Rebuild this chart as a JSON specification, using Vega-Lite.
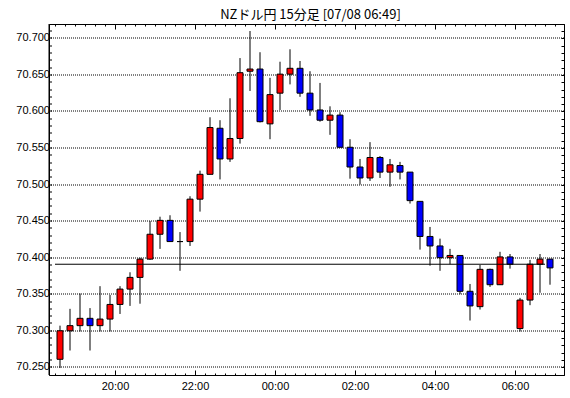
{
  "$schema": "https://vega.github.io/schema/vega-lite/v6.json",
  "width": 515,
  "height": 351,
  "autosize": {"type": "none"},
  "padding": {"left": 49, "top": 24, "right": 6, "bottom": 23},
  "background": "white",
  "title": {
    "text": "NZドル円 15分足 [07/08 06:49]",
    "font": "Noto Sans CJK JP",
    "fontSize": 13,
    "fontWeight": "normal",
    "color": "black",
    "anchor": "middle",
    "frame": "group",
    "baseline": "alphabetic",
    "offset": -8,
    "dx": 4
  },
  "config": {
    "view": {"stroke": "black", "strokeWidth": 1},
    "axis": {
      "labelFont": "Liberation Sans",
      "labelFontSize": 11,
      "labelColor": "black",
      "tickColor": "black",
      "domainColor": "black",
      "title": null,
      "labelOverlap": false,
      "labelFlush": false
    }
  },
  "datasets": {
    "candles": [
      {"t": "2024-07-07T18:30", "open": 70.261, "high": 70.307, "low": 70.249, "close": 70.300},
      {"t": "2024-07-07T18:45", "open": 70.300, "high": 70.330, "low": 70.273, "close": 70.307},
      {"t": "2024-07-07T19:00", "open": 70.307, "high": 70.351, "low": 70.299, "close": 70.317},
      {"t": "2024-07-07T19:15", "open": 70.317, "high": 70.331, "low": 70.273, "close": 70.307},
      {"t": "2024-07-07T19:30", "open": 70.307, "high": 70.361, "low": 70.299, "close": 70.316},
      {"t": "2024-07-07T19:45", "open": 70.316, "high": 70.349, "low": 70.299, "close": 70.336},
      {"t": "2024-07-07T20:00", "open": 70.336, "high": 70.361, "low": 70.323, "close": 70.357},
      {"t": "2024-07-07T20:15", "open": 70.357, "high": 70.380, "low": 70.334, "close": 70.373},
      {"t": "2024-07-07T20:30", "open": 70.373, "high": 70.400, "low": 70.337, "close": 70.398},
      {"t": "2024-07-07T20:45", "open": 70.398, "high": 70.450, "low": 70.397, "close": 70.432},
      {"t": "2024-07-07T21:00", "open": 70.432, "high": 70.456, "low": 70.412, "close": 70.451},
      {"t": "2024-07-07T21:15", "open": 70.451, "high": 70.458, "low": 70.422, "close": 70.422},
      {"t": "2024-07-07T21:30", "open": 70.422, "high": 70.435, "low": 70.382, "close": 70.422},
      {"t": "2024-07-07T21:45", "open": 70.422, "high": 70.484, "low": 70.416, "close": 70.480},
      {"t": "2024-07-07T22:00", "open": 70.480, "high": 70.519, "low": 70.463, "close": 70.514},
      {"t": "2024-07-07T22:15", "open": 70.514, "high": 70.592, "low": 70.514, "close": 70.578},
      {"t": "2024-07-07T22:30", "open": 70.577, "high": 70.588, "low": 70.507, "close": 70.535},
      {"t": "2024-07-07T22:45", "open": 70.535, "high": 70.618, "low": 70.531, "close": 70.563},
      {"t": "2024-07-07T23:00", "open": 70.563, "high": 70.673, "low": 70.556, "close": 70.653},
      {"t": "2024-07-07T23:15", "open": 70.655, "high": 70.710, "low": 70.628, "close": 70.658},
      {"t": "2024-07-07T23:30", "open": 70.658, "high": 70.681, "low": 70.585, "close": 70.586},
      {"t": "2024-07-07T23:45", "open": 70.583, "high": 70.646, "low": 70.562, "close": 70.623},
      {"t": "2024-07-08T00:00", "open": 70.625, "high": 70.668, "low": 70.602, "close": 70.651},
      {"t": "2024-07-08T00:15", "open": 70.651, "high": 70.685, "low": 70.637, "close": 70.659},
      {"t": "2024-07-08T00:30", "open": 70.659, "high": 70.669, "low": 70.620, "close": 70.625},
      {"t": "2024-07-08T00:45", "open": 70.625, "high": 70.655, "low": 70.594, "close": 70.602},
      {"t": "2024-07-08T01:00", "open": 70.602, "high": 70.639, "low": 70.586, "close": 70.588},
      {"t": "2024-07-08T01:15", "open": 70.588, "high": 70.607, "low": 70.568, "close": 70.595},
      {"t": "2024-07-08T01:30", "open": 70.595, "high": 70.599, "low": 70.551, "close": 70.551},
      {"t": "2024-07-08T01:45", "open": 70.551, "high": 70.562, "low": 70.508, "close": 70.524},
      {"t": "2024-07-08T02:00", "open": 70.524, "high": 70.535, "low": 70.500, "close": 70.509},
      {"t": "2024-07-08T02:15", "open": 70.509, "high": 70.558, "low": 70.505, "close": 70.537},
      {"t": "2024-07-08T02:30", "open": 70.537, "high": 70.539, "low": 70.509, "close": 70.517},
      {"t": "2024-07-08T02:45", "open": 70.517, "high": 70.535, "low": 70.497, "close": 70.527},
      {"t": "2024-07-08T03:00", "open": 70.526, "high": 70.531, "low": 70.507, "close": 70.517},
      {"t": "2024-07-08T03:15", "open": 70.517, "high": 70.517, "low": 70.474, "close": 70.478},
      {"t": "2024-07-08T03:30", "open": 70.477, "high": 70.477, "low": 70.411, "close": 70.429},
      {"t": "2024-07-08T03:45", "open": 70.429, "high": 70.442, "low": 70.389, "close": 70.416},
      {"t": "2024-07-08T04:00", "open": 70.416, "high": 70.426, "low": 70.382, "close": 70.400},
      {"t": "2024-07-08T04:15", "open": 70.400, "high": 70.412, "low": 70.391, "close": 70.403},
      {"t": "2024-07-08T04:30", "open": 70.403, "high": 70.403, "low": 70.350, "close": 70.354},
      {"t": "2024-07-08T04:45", "open": 70.354, "high": 70.364, "low": 70.314, "close": 70.334},
      {"t": "2024-07-08T05:00", "open": 70.333, "high": 70.390, "low": 70.329, "close": 70.384},
      {"t": "2024-07-08T05:15", "open": 70.384, "high": 70.385, "low": 70.360, "close": 70.363},
      {"t": "2024-07-08T05:30", "open": 70.363, "high": 70.408, "low": 70.363, "close": 70.401},
      {"t": "2024-07-08T05:45", "open": 70.401, "high": 70.405, "low": 70.385, "close": 70.391},
      {"t": "2024-07-08T06:00", "open": 70.303, "high": 70.345, "low": 70.299, "close": 70.342},
      {"t": "2024-07-08T06:15", "open": 70.342, "high": 70.397, "low": 70.335, "close": 70.391},
      {"t": "2024-07-08T06:30", "open": 70.391, "high": 70.405, "low": 70.352, "close": 70.398},
      {"t": "2024-07-08T06:45", "open": 70.398, "high": 70.398, "low": 70.363, "close": 70.386}
    ],
    "priceline": [
      {"from": "2024-07-07T18:30", "to": "2024-07-08T06:45", "price": 70.391}
    ]
  },
  "resolve": {"axis": {"x": "independent", "y": "independent"}},
  "layer": [
    {
      "data": {"name": "candles"},
      "mark": {"type": "rule", "color": "black", "strokeWidth": 1, "xOffset": 5},
      "encoding": {
        "x": {"field": "t", "type": "temporal",
          "scale": {"domain": [{"year": 2024, "month": 7, "date": 7, "hours": 18, "minutes": 21}, {"year": 2024, "month": 7, "date": 8, "hours": 7, "minutes": 13, "seconds": 30}], "padding": 0, "nice": false},
          "axis": {
            "orient": "bottom",
            "format": "%H:%M",
            "values": [
              {"year": 2024, "month": 7, "date": 7, "hours": 18, "minutes": 30},
              {"year": 2024, "month": 7, "date": 7, "hours": 18, "minutes": 45},
              {"year": 2024, "month": 7, "date": 7, "hours": 19, "minutes": 0},
              {"year": 2024, "month": 7, "date": 7, "hours": 19, "minutes": 15},
              {"year": 2024, "month": 7, "date": 7, "hours": 19, "minutes": 30},
              {"year": 2024, "month": 7, "date": 7, "hours": 19, "minutes": 45},
              {"year": 2024, "month": 7, "date": 7, "hours": 20, "minutes": 0},
              {"year": 2024, "month": 7, "date": 7, "hours": 20, "minutes": 15},
              {"year": 2024, "month": 7, "date": 7, "hours": 20, "minutes": 30},
              {"year": 2024, "month": 7, "date": 7, "hours": 20, "minutes": 45},
              {"year": 2024, "month": 7, "date": 7, "hours": 21, "minutes": 0},
              {"year": 2024, "month": 7, "date": 7, "hours": 21, "minutes": 15},
              {"year": 2024, "month": 7, "date": 7, "hours": 21, "minutes": 30},
              {"year": 2024, "month": 7, "date": 7, "hours": 21, "minutes": 45},
              {"year": 2024, "month": 7, "date": 7, "hours": 22, "minutes": 0},
              {"year": 2024, "month": 7, "date": 7, "hours": 22, "minutes": 15},
              {"year": 2024, "month": 7, "date": 7, "hours": 22, "minutes": 30},
              {"year": 2024, "month": 7, "date": 7, "hours": 22, "minutes": 45},
              {"year": 2024, "month": 7, "date": 7, "hours": 23, "minutes": 0},
              {"year": 2024, "month": 7, "date": 7, "hours": 23, "minutes": 15},
              {"year": 2024, "month": 7, "date": 7, "hours": 23, "minutes": 30},
              {"year": 2024, "month": 7, "date": 7, "hours": 23, "minutes": 45},
              {"year": 2024, "month": 7, "date": 8, "hours": 0, "minutes": 0},
              {"year": 2024, "month": 7, "date": 8, "hours": 0, "minutes": 15},
              {"year": 2024, "month": 7, "date": 8, "hours": 0, "minutes": 30},
              {"year": 2024, "month": 7, "date": 8, "hours": 0, "minutes": 45},
              {"year": 2024, "month": 7, "date": 8, "hours": 1, "minutes": 0},
              {"year": 2024, "month": 7, "date": 8, "hours": 1, "minutes": 15},
              {"year": 2024, "month": 7, "date": 8, "hours": 1, "minutes": 30},
              {"year": 2024, "month": 7, "date": 8, "hours": 1, "minutes": 45},
              {"year": 2024, "month": 7, "date": 8, "hours": 2, "minutes": 0},
              {"year": 2024, "month": 7, "date": 8, "hours": 2, "minutes": 15},
              {"year": 2024, "month": 7, "date": 8, "hours": 2, "minutes": 30},
              {"year": 2024, "month": 7, "date": 8, "hours": 2, "minutes": 45},
              {"year": 2024, "month": 7, "date": 8, "hours": 3, "minutes": 0},
              {"year": 2024, "month": 7, "date": 8, "hours": 3, "minutes": 15},
              {"year": 2024, "month": 7, "date": 8, "hours": 3, "minutes": 30},
              {"year": 2024, "month": 7, "date": 8, "hours": 3, "minutes": 45},
              {"year": 2024, "month": 7, "date": 8, "hours": 4, "minutes": 0},
              {"year": 2024, "month": 7, "date": 8, "hours": 4, "minutes": 15},
              {"year": 2024, "month": 7, "date": 8, "hours": 4, "minutes": 30},
              {"year": 2024, "month": 7, "date": 8, "hours": 4, "minutes": 45},
              {"year": 2024, "month": 7, "date": 8, "hours": 5, "minutes": 0},
              {"year": 2024, "month": 7, "date": 8, "hours": 5, "minutes": 15},
              {"year": 2024, "month": 7, "date": 8, "hours": 5, "minutes": 30},
              {"year": 2024, "month": 7, "date": 8, "hours": 5, "minutes": 45},
              {"year": 2024, "month": 7, "date": 8, "hours": 6, "minutes": 0},
              {"year": 2024, "month": 7, "date": 8, "hours": 6, "minutes": 15},
              {"year": 2024, "month": 7, "date": 8, "hours": 6, "minutes": 30},
              {"year": 2024, "month": 7, "date": 8, "hours": 6, "minutes": 45},
              {"year": 2024, "month": 7, "date": 8, "hours": 7, "minutes": 0}
            ],
            "labelExpr": "round(datum.index * 50) % 8 == 6 ? datum.label : ''",
            "tickSize": {"condition": {"test": "round(datum.index * 50) % 8 == 6", "value": -5}, "value": -2},
            "labelPadding": 10,
            "grid": false
          }
        },
        "y": {"field": "low", "type": "quantitative",
          "scale": {"domain": [70.2395, 70.7196], "nice": false, "zero": false, "padding": 0},
          "axis": {
            "orient": "left",
            "translate": 0,
            "values": [70.25, 70.26, 70.27, 70.28, 70.29, 70.3, 70.31, 70.32, 70.33, 70.34, 70.35, 70.36, 70.37, 70.38, 70.39, 70.4, 70.41, 70.42, 70.43, 70.44, 70.45, 70.46, 70.47, 70.48, 70.49, 70.5, 70.51, 70.52, 70.53, 70.54, 70.55, 70.56, 70.57, 70.58, 70.59, 70.6, 70.61, 70.62, 70.63, 70.64, 70.65, 70.66, 70.67, 70.68, 70.69, 70.7, 70.71],
            "labelExpr": "abs(datum.value * 20 - round(datum.value * 20)) < 0.001 ? format(datum.value, '.3f') : ''",
            "tickSize": -3,
            "labelPadding": 2,
            "grid": true,
            "gridColor": "black",
            "gridDash": [1, 1],
            "gridOpacity": {"condition": {"test": "abs(datum.value * 20 - round(datum.value * 20)) < 0.001", "value": 1}, "value": 0}
          }
        },
        "y2": {"field": "high"}
      }
    },
    {
      "data": {"name": "candles"},
      "mark": {"type": "bar", "width": 6, "stroke": "black", "strokeWidth": 1, "xOffset": 5},
      "encoding": {
        "x": {"field": "t", "type": "temporal",
          "axis": {
            "orient": "top",
            "labels": false,
            "values": [
              {"year": 2024, "month": 7, "date": 7, "hours": 18, "minutes": 30},
              {"year": 2024, "month": 7, "date": 7, "hours": 18, "minutes": 45},
              {"year": 2024, "month": 7, "date": 7, "hours": 19, "minutes": 0},
              {"year": 2024, "month": 7, "date": 7, "hours": 19, "minutes": 15},
              {"year": 2024, "month": 7, "date": 7, "hours": 19, "minutes": 30},
              {"year": 2024, "month": 7, "date": 7, "hours": 19, "minutes": 45},
              {"year": 2024, "month": 7, "date": 7, "hours": 20, "minutes": 0},
              {"year": 2024, "month": 7, "date": 7, "hours": 20, "minutes": 15},
              {"year": 2024, "month": 7, "date": 7, "hours": 20, "minutes": 30},
              {"year": 2024, "month": 7, "date": 7, "hours": 20, "minutes": 45},
              {"year": 2024, "month": 7, "date": 7, "hours": 21, "minutes": 0},
              {"year": 2024, "month": 7, "date": 7, "hours": 21, "minutes": 15},
              {"year": 2024, "month": 7, "date": 7, "hours": 21, "minutes": 30},
              {"year": 2024, "month": 7, "date": 7, "hours": 21, "minutes": 45},
              {"year": 2024, "month": 7, "date": 7, "hours": 22, "minutes": 0},
              {"year": 2024, "month": 7, "date": 7, "hours": 22, "minutes": 15},
              {"year": 2024, "month": 7, "date": 7, "hours": 22, "minutes": 30},
              {"year": 2024, "month": 7, "date": 7, "hours": 22, "minutes": 45},
              {"year": 2024, "month": 7, "date": 7, "hours": 23, "minutes": 0},
              {"year": 2024, "month": 7, "date": 7, "hours": 23, "minutes": 15},
              {"year": 2024, "month": 7, "date": 7, "hours": 23, "minutes": 30},
              {"year": 2024, "month": 7, "date": 7, "hours": 23, "minutes": 45},
              {"year": 2024, "month": 7, "date": 8, "hours": 0, "minutes": 0},
              {"year": 2024, "month": 7, "date": 8, "hours": 0, "minutes": 15},
              {"year": 2024, "month": 7, "date": 8, "hours": 0, "minutes": 30},
              {"year": 2024, "month": 7, "date": 8, "hours": 0, "minutes": 45},
              {"year": 2024, "month": 7, "date": 8, "hours": 1, "minutes": 0},
              {"year": 2024, "month": 7, "date": 8, "hours": 1, "minutes": 15},
              {"year": 2024, "month": 7, "date": 8, "hours": 1, "minutes": 30},
              {"year": 2024, "month": 7, "date": 8, "hours": 1, "minutes": 45},
              {"year": 2024, "month": 7, "date": 8, "hours": 2, "minutes": 0},
              {"year": 2024, "month": 7, "date": 8, "hours": 2, "minutes": 15},
              {"year": 2024, "month": 7, "date": 8, "hours": 2, "minutes": 30},
              {"year": 2024, "month": 7, "date": 8, "hours": 2, "minutes": 45},
              {"year": 2024, "month": 7, "date": 8, "hours": 3, "minutes": 0},
              {"year": 2024, "month": 7, "date": 8, "hours": 3, "minutes": 15},
              {"year": 2024, "month": 7, "date": 8, "hours": 3, "minutes": 30},
              {"year": 2024, "month": 7, "date": 8, "hours": 3, "minutes": 45},
              {"year": 2024, "month": 7, "date": 8, "hours": 4, "minutes": 0},
              {"year": 2024, "month": 7, "date": 8, "hours": 4, "minutes": 15},
              {"year": 2024, "month": 7, "date": 8, "hours": 4, "minutes": 30},
              {"year": 2024, "month": 7, "date": 8, "hours": 4, "minutes": 45},
              {"year": 2024, "month": 7, "date": 8, "hours": 5, "minutes": 0},
              {"year": 2024, "month": 7, "date": 8, "hours": 5, "minutes": 15},
              {"year": 2024, "month": 7, "date": 8, "hours": 5, "minutes": 30},
              {"year": 2024, "month": 7, "date": 8, "hours": 5, "minutes": 45},
              {"year": 2024, "month": 7, "date": 8, "hours": 6, "minutes": 0},
              {"year": 2024, "month": 7, "date": 8, "hours": 6, "minutes": 15},
              {"year": 2024, "month": 7, "date": 8, "hours": 6, "minutes": 30},
              {"year": 2024, "month": 7, "date": 8, "hours": 6, "minutes": 45},
              {"year": 2024, "month": 7, "date": 8, "hours": 7, "minutes": 0}
            ],
            "tickSize": {"condition": {"test": "round(datum.index * 50) % 8 == 6", "value": -5}, "value": -2},
            "grid": false
          }
        },
        "y": {"field": "open", "type": "quantitative",
          "axis": {
            "orient": "right",
            "values": [70.25, 70.26, 70.27, 70.28, 70.29, 70.3, 70.31, 70.32, 70.33, 70.34, 70.35, 70.36, 70.37, 70.38, 70.39, 70.4, 70.41, 70.42, 70.43, 70.44, 70.45, 70.46, 70.47, 70.48, 70.49, 70.5, 70.51, 70.52, 70.53, 70.54, 70.55, 70.56, 70.57, 70.58, 70.59, 70.6, 70.61, 70.62, 70.63, 70.64, 70.65, 70.66, 70.67, 70.68, 70.69, 70.7, 70.71],
            "labels": false,
            "tickSize": -3,
            "grid": false
          }
        },
        "y2": {"field": "close"},
        "color": {
          "condition": {"test": "datum.close >= datum.open", "value": "#ff0000"},
          "value": "#0000ff"
        }
      }
    },
    {
      "data": {"name": "priceline"},
      "mark": {"type": "rule", "color": "black", "strokeWidth": 1},
      "encoding": {
        "x": {"field": "from", "type": "temporal", "axis": null},
        "x2": {"field": "to"},
        "y": {"field": "price", "type": "quantitative", "axis": null}
      }
    }
  ]
}
